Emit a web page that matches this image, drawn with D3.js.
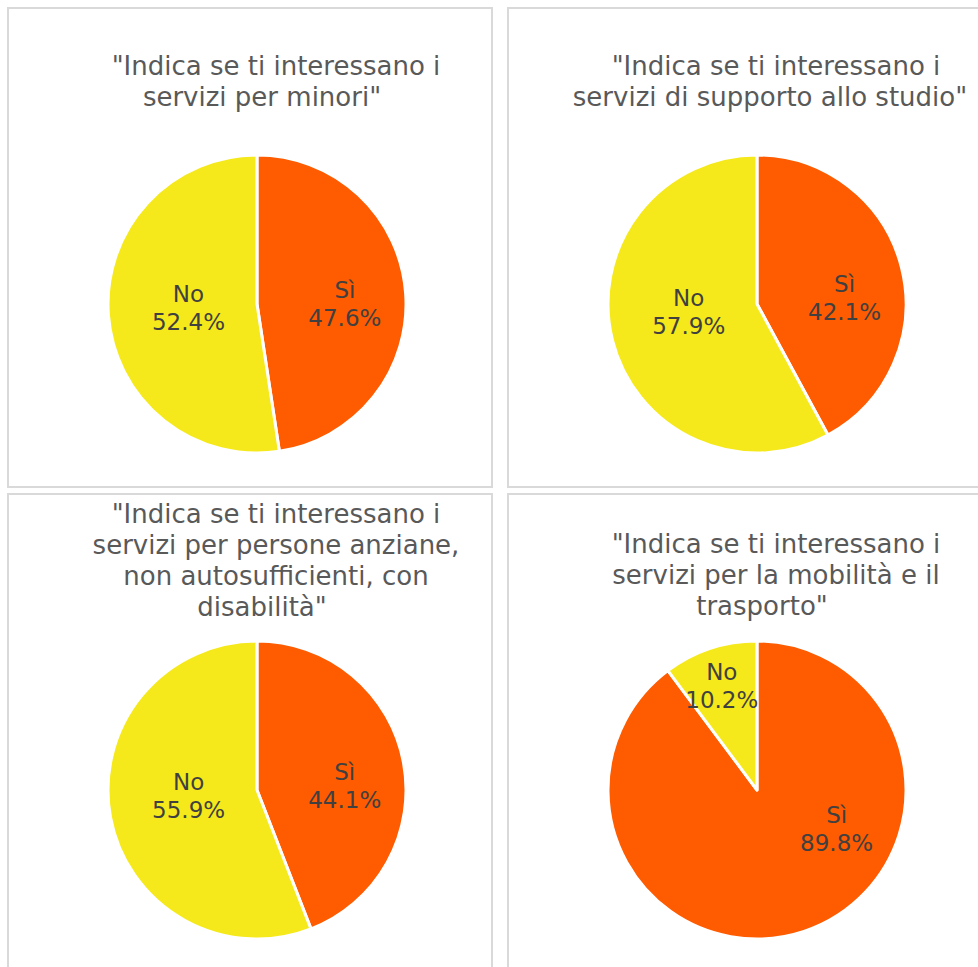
<!DOCTYPE html>
<html>
<head>
<meta charset="utf-8">
<script src="https://cdn.jsdelivr.net/npm/d3@7"></script>
<style>
  body { margin: 0; background: #fff; }
  svg { display: block; font-family: "DejaVu Sans", sans-serif; }
</style>
</head>
<body>
<svg id="chart"></svg>
<script>
// data for the four pies
const categories = ["Sì", "No"];
const titles = [
  ['"Indica se ti interessano i', 'servizi per minori"'],
  ['"Indica se ti interessano i', 'servizi di supporto allo studio"'],
  ['"Indica se ti interessano i', 'servizi per persone anziane,', 'non autosufficienti, con', 'disabilità"'],
  ['"Indica se ti interessano i', 'servizi per la mobilità e il', 'trasporto"']
];
const siValues = [47.6, 42.1, 44.1, 89.8];
const noValues = [52.4, 57.9, 55.9, 10.2];

const W = 978, H = 967;
const svg = d3.select("#chart").attr("width", W).attr("height", H);

const color = d3.scaleOrdinal().domain(categories).range(["#FF5B00", "#F5E91C"]);

// panel layout
const panelW = 484, panelH = 479, gapX = 16, gapY = 7;
const ox = 8, oy = 8;
const radius = 149;
const firstBaseline = { 2: 67, 3: 59, 4: 29 };

const pie = d3.pie().sort(null).value(d => d.value);
const arc = d3.arc().innerRadius(0).outerRadius(radius);

// rough "best fit" placement: lean label toward the nearest horizontal the slice covers
function labelPos(d) {
  const share = (d.endAngle - d.startAngle) / (2 * Math.PI);
  const mid = (d.startAngle + d.endAngle) / 2;
  let ang = mid, best = Infinity;
  [Math.PI / 2, 3 * Math.PI / 2].forEach(h => {
    if (h > d.startAngle && h < d.endAngle && Math.abs(h - mid) < best) {
      best = Math.abs(h - mid);
      ang = 0.35 * mid + 0.65 * h;
    }
  });
  let r;
  if (share < 0.15) r = radius * 0.75;
  else if (share >= 0.5 && share < 0.8) r = radius * 0.46;
  else r = radius * 0.59;
  return [Math.sin(ang) * r, -Math.cos(ang) * r];
}

const measure = svg.append("text").attr("font-size", 26).attr("visibility", "hidden");
function textW(s) { measure.text(s); return measure.node().getComputedTextLength(); }

titles.forEach((lines, i) => {
  const col = i % 2, row = Math.floor(i / 2);
  const px = ox + col * (panelW + gapX);
  const py = oy + row * (panelH + gapY);
  const g = svg.append("g").attr("transform", `translate(${px},${py})`);

  g.append("rect")
    .attr("width", panelW).attr("height", panelH)
    .attr("fill", "#fff")
    .attr("stroke", "#d9d9d9").attr("stroke-width", 2);

  // title
  const t = g.append("text")
    .attr("text-anchor", "middle")
    .attr("fill", "#595959")
    .attr("font-size", 26);
  const firstW = textW(lines[0]);
  lines.forEach((ln, k) => {
    const last = k === lines.length - 1;
    let shift = 26;
    if (last) shift = textW(ln) > firstW ? 20 : 12;
    t.append("tspan")
      .attr("x", panelW / 2 + shift)
      .attr("y", firstBaseline[lines.length] + k * 31)
      .text(ln);
  });

  const data = categories.map((c, k) => ({ name: c, value: k === 0 ? siValues[i] : noValues[i] }));
  const pg = g.append("g").attr("transform", `translate(${panelW / 2 + 7},296)`);
  const arcs = pie(data);

  pg.selectAll("path").data(arcs).join("path")
    .attr("d", arc)
    .attr("fill", d => color(d.data.name))
    .attr("stroke", "#fff").attr("stroke-width", 3)
    .attr("stroke-linejoin", "round");

  const lbl = pg.selectAll("text.lbl").data(arcs).join("text")
    .attr("class", "lbl")
    .attr("text-anchor", "middle")
    .attr("fill", "#404040")
    .attr("font-size", 23)
    .attr("transform", d => `translate(${labelPos(d)})`);
  lbl.append("tspan").attr("x", 0).attr("y", -4).text(d => d.data.name);
  lbl.append("tspan").attr("x", 0).attr("y", 24).text(d => d.data.value.toFixed(1) + "%");
});
measure.remove();
</script>
</body>
</html>
